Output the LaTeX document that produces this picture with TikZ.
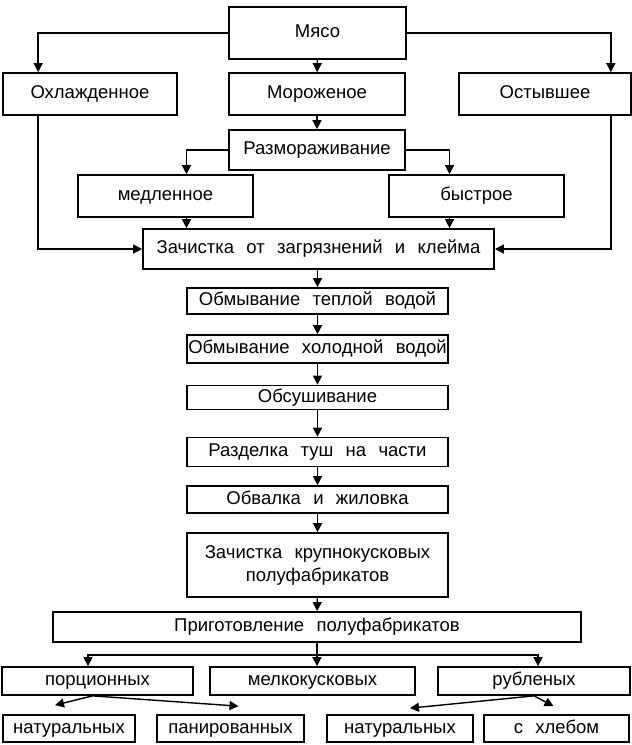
\documentclass[tikz,border=0pt]{standalone}
\usepackage{fontspec}
\setmainfont{Liberation Sans}[WordSpace=2.4]
\usetikzlibrary{arrows.meta}
\tikzset{
    stage/.style={draw, line width=1.7pt, inner sep=1pt, align=center,
        text height=12pt, text depth=3pt,
        font=\fontsize{18.5}{23}\selectfont},
    flow/.style={-{Triangle[length=9pt, width=9pt]}, line width=1.4pt}
}

\begin{document}
\begin{tikzpicture}[x=1pt, y=-1pt]
    \useasboundingbox (0,0) rectangle (632,745);
    % sources
    \node[stage, minimum width=177pt, minimum height=52pt] (myaso) at (317.5,33) {Мясо};
    \node[stage, minimum width=174pt, minimum height=42pt] (ohl) at (90,94) {Охлажденное};
    \node[stage, minimum width=176pt, minimum height=42pt] (moroz) at (317,94) {Мороженое};
    \node[stage, minimum width=172pt, minimum height=42pt] (ostyv) at (545,94) {Остывшее};
    \node[stage, minimum width=176pt, minimum height=40pt] (razm) at (317,150) {Размораживание};
    \node[stage, minimum width=175pt, minimum height=42pt] (medl) at (165.5,196) {медленное};
    \node[stage, minimum width=175pt, minimum height=42pt] (bystr) at (476.5,196) {быстрое};
    \node[stage, minimum width=351pt, minimum height=40pt] (zach) at (318.5,249) {Зачистка от загрязнений и клейма};
    % processing chain
    \node[stage, minimum width=261pt, minimum height=26pt] (teplo) at (317.5,301) {Обмывание теплой водой};
    \node[stage, minimum width=261pt, minimum height=28pt] (holod) at (317.5,349) {Обмывание холодной водой};
    \node[stage, minimum width=261pt, minimum height=24pt] (sush) at (317.5,397.5) {Обсушивание};
    \node[stage, minimum width=261pt, minimum height=29pt] (razd) at (317.5,452) {Разделка туш на части};
    \node[stage, minimum width=261pt, minimum height=27pt] (obval) at (317.5,499.5) {Обвалка и жиловка};
    \node[stage, minimum width=261pt, minimum height=64pt, text height=, text depth=] (krup) at (317.5,565) {Зачистка крупнокусковых\\полуфабрикатов};
    \node[stage, minimum width=528pt, minimum height=30pt] (prig) at (317,627) {Приготовление полуфабрикатов};
    % products
    \node[stage, minimum width=191pt, minimum height=28pt] (porc) at (97.5,681) {порционных};
    \node[stage, minimum width=205pt, minimum height=28pt] (melk) at (312.5,681) {мелкокусковых};
    \node[stage, minimum width=192pt, minimum height=28pt] (rubl) at (534,681) {рубленых};
    \node[stage, minimum width=132pt, minimum height=27pt] (nat1) at (69,728.5) {натуральных};
    \node[stage, minimum width=147pt, minimum height=27pt] (panir) at (230.5,728.5) {панированных};
    \node[stage, minimum width=146pt, minimum height=27pt] (nat2) at (400,728.5) {натуральных};
    \node[stage, minimum width=145pt, minimum height=27pt] (hleb) at (556.5,728.5) {с хлебом};

    \draw[flow] (myaso.west) -| ([xshift=36pt]ohl.north west);
    \draw[flow] (myaso.east) -| ([xshift=-21pt]ostyv.north east);
    \draw[flow] (myaso) -- (moroz);
    \draw[flow] (moroz) -- (razm);
    \draw[flow] (razm.west) -| ([xshift=21pt]medl.north);
    \draw[flow] (razm.east) -| ([xshift=-27pt]bystr.north);
    \draw[flow] ([xshift=21pt]medl.south) -- ([xshift=21pt]medl.south |- zach.north);
    \draw[flow] ([xshift=-27pt]bystr.south) -- ([xshift=-27pt]bystr.south |- zach.north);
    \draw[flow] ([xshift=36pt]ohl.south west) |- (zach.west);
    \draw[flow] ([xshift=-21pt]ostyv.south east) |- (zach.east);
    \draw[flow] (zach.south -| teplo) -- (teplo);
    \draw[flow] (teplo) -- (holod);
    \draw[flow] (holod) -- (sush);
    \draw[flow] (sush) -- (razd);
    \draw[flow] (razd) -- (obval);
    \draw[flow] (obval) -- (krup);
    \draw[flow] (krup) -- (prig);
    % branches
    \coordinate (split) at ([yshift=-12pt]prig.south);
    \draw[flow] (prig.south) -- (prig.south |- melk.north);
    \draw[flow] (split) -| ([xshift=-9.5pt]porc.north);
    \draw[flow] (split) -| ([xshift=4pt]rubl.north);
    \draw[flow] ([xshift=-5pt]porc.south) -- ([xshift=-14pt, yshift=9pt]nat1.north);
    \draw[flow] ([xshift=-5pt]porc.south) -- ([xshift=8pt, yshift=8pt]panir.north);
    \draw[flow] (rubl.south) -- ([xshift=10pt, yshift=6pt]nat2.north);
    \draw[flow] (rubl.south) -- ([xshift=-3pt, yshift=8pt]hleb.north);
\end{tikzpicture}
\end{document}
